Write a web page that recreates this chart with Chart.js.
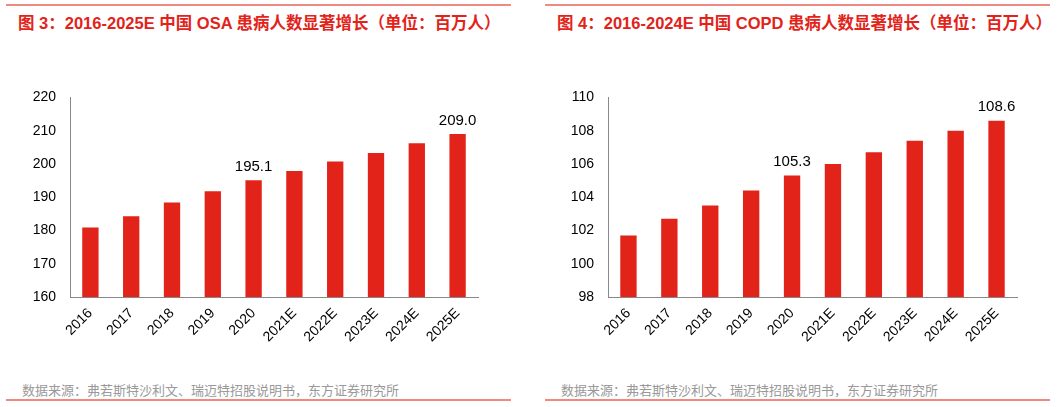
<!doctype html>
<html>
<head>
<meta charset="utf-8">
<script src="https://cdn.jsdelivr.net/npm/chart.js@4"></script>
<style>
body{margin:0;width:1061px;height:407px;background:#fff;font-family:"Liberation Sans","Noto Sans CJK SC",sans-serif;position:relative;overflow:hidden}
.panel{position:absolute;top:0;width:505px;height:407px}
.top{position:absolute;left:0;right:0;top:4px;border-top:2px solid #ee8a80}
.bot{position:absolute;left:0;right:0;top:399px;border-top:2px solid #ee8a80}
.title{position:absolute;left:12px;top:10px;width:490px;color:#e2231a;font-size:16.5px;line-height:26px;font-weight:bold;font-family:"Liberation Sans","Noto Sans CJK SC",sans-serif}
.src{position:absolute;left:16px;top:380px;color:#999;font-size:13px}
.cv{position:absolute;left:0;top:75px;width:500px;height:300px}
</style>
</head>
<body>
<div class="panel" style="left:6px">
	<div class="top"></div>
	<div class="title">图 3：2016-2025E 中国 OSA 患病人数显著增长（单位：百万人）</div>
	<div class="cv"><canvas id="c1"></canvas></div>
	<div class="src">数据来源：弗若斯特沙利文、瑞迈特招股说明书，东方证券研究所</div>
	<div class="bot"></div>
</div>
<div class="panel" style="left:545px">
	<div class="top"></div>
	<div class="title">图 4：2016-2024E 中国 COPD 患病人数显著增长（单位：百万人）</div>
	<div class="cv"><canvas id="c2"></canvas></div>
	<div class="src">数据来源：弗若斯特沙利文、瑞迈特招股说明书，东方证券研究所</div>
	<div class="bot"></div>
</div>
<script>
var years = ['2016', '2017', '2018', '2019', '2020', '2021E', '2022E', '2023E', '2024E', '2025E'];
var osaValues = [180.9, 184.3, 188.4, 191.8, 195.1, 197.9, 200.7, 203.3, 206.2, 209.0];
var copdValues = [101.7, 102.7, 103.5, 104.4, 105.3, 106.0, 106.7, 107.4, 108.0, 108.6];
var labelled = [4, 9];

var barLabels = {
	id: 'barLabels',
	afterDatasetsDraw: function(chart) {
		var ctx = chart.ctx;
		var meta = chart.getDatasetMeta(0);
		ctx.save();
		ctx.font = '15px "Liberation Sans"';
		ctx.fillStyle = '#000';
		ctx.textAlign = 'center';
		ctx.textBaseline = 'bottom';
		labelled.forEach(function(i) {
			var v = chart.data.datasets[0].data[i];
			ctx.fillText(v.toFixed(1), meta.data[i].x, meta.data[i].y - 6);
		});
		ctx.restore();
	}
};

function makeChart(id, values, min, max, step, yWidth) {
	return new Chart(document.getElementById(id), {
		type: 'bar',
		data: {
			labels: years,
			datasets: [{data: values, backgroundColor: '#e2231a', categoryPercentage: 1, barPercentage: 0.4}]
		},
		options: {
			responsive: true,
			maintainAspectRatio: false,
			animation: false,
			layout: {padding: {top: 13, right: 28}},
			plugins: {legend: {display: false}, tooltip: {enabled: false}},
			scales: {
				x: {
					grid: {display: false, drawTicks: true, tickLength: 5, color: '#888'},
					border: {color: '#888'},
					ticks: {color: '#000', font: {size: 14, family: 'Liberation Sans'}, maxRotation: 45, minRotation: 45},
					afterFit: function(s) { s.height = 78; }
				},
				y: {
					min: min, max: max,
					grid: {display: false, drawTicks: false},
					border: {color: '#888'},
					ticks: {stepSize: step, color: '#000', padding: 14, font: {size: 14, family: 'Liberation Sans'}},
					afterFit: function(s) { s.width = yWidth; }
				}
			}
		},
		plugins: [barLabels]
	});
}

makeChart('c1', osaValues, 160, 220, 10, 64);
makeChart('c2', copdValues, 98, 110, 2, 63);
</script>
</body>
</html>
